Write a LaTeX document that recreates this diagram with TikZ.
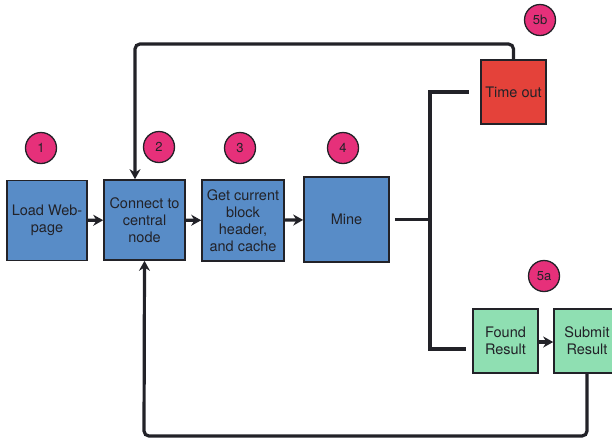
\documentclass[tikz,border=0pt]{standalone}
\usepackage{fontspec}
\setmainfont{TeX Gyre Heros}
\usetikzlibrary{arrows.meta}
\definecolor{stepblue}{RGB}{88,140,199}
\definecolor{stepred}{RGB}{228,66,58}
\definecolor{stepgreen}{RGB}{143,223,178}
\definecolor{badgepink}{RGB}{230,48,122}
\definecolor{inkdark}{RGB}{34,34,40}
\tikzset{
  stepbox/.style={draw=inkdark,line width=1.6pt,text=inkdark,align=center,
    inner sep=1pt,font=\fontsize{14.5}{17}\selectfont},
  badge/.style={circle,draw=inkdark,line width=1.3pt,fill=badgepink,
    minimum size=31pt,inner sep=0pt,text=inkdark,font=\fontsize{13}{15}\selectfont},
  flow/.style={draw=inkdark,line width=3.2pt},
  flowarrow/.style={flow,-{Stealth[length=10pt,width=11pt]}}
}

\begin{document}
\begin{tikzpicture}[x=1pt,y=-1pt]
\useasboundingbox (0,0) rectangle (612,440);
\clip (0,0) rectangle (612,440);
\node[stepbox,fill=stepblue,minimum width=80pt,minimum height=80pt] (load) at (47,220.5) {Load Web-\\page};
\node[stepbox,fill=stepblue,minimum width=81pt,minimum height=80pt] (connect) at (144.5,220) {Connect to\\central\\node};
\node[stepbox,fill=stepblue,minimum width=82pt,minimum height=81pt] (header) at (243,220.5) {Get current\\block\\header,\\and cache};
\node[stepbox,fill=stepblue,minimum width=85pt,minimum height=85pt] (mine) at (346.5,219.5) {Mine};
\node[stepbox,fill=stepred,minimum width=65pt,minimum height=64pt] (timeout) at (513.5,92) {Time out};
\node[stepbox,fill=stepgreen,minimum width=65pt,minimum height=64pt] (found) at (505.5,341) {Found\\Result};
\node[stepbox,fill=stepgreen,minimum width=66pt,minimum height=64pt] (submit) at (587,341) {Submit\\Result};
\node[badge] (b1) at (41,148) {1};
\node[badge] (b2) at (159,147) {2};
\node[badge] (b3) at (240,148) {3};
\node[badge] (b4) at (343,148) {4};
\node[badge] (b5b) at (540,20) {5b};
\node[badge] (b5a) at (544,276) {5a};
\coordinate (junction) at (430,219.5);
\coordinate (topbend) at (135,44);
\coordinate (bottombend) at (144,436);
\draw[flowarrow] (load) -- (connect);
\draw[flowarrow] (connect) -- (header);
\draw[flowarrow] (header) -- (mine);
\draw[flowarrow] (found.east |- 0,342) -- (submit.west |- 0,342);
\draw[flow] ([xshift=5pt]mine.east) -- (junction);
\draw[flow,shorten >=11pt] (junction) |- (timeout.west);
\draw[flow,shorten >=6pt] (junction) |- ([yshift=-8pt]found.west);
\draw[flowarrow,rounded corners=5pt] (timeout.north) |- (topbend) -- ([xshift=-9.5pt]connect.north);
\draw[flowarrow,rounded corners=5pt] (submit.south) |- (bottombend) -- (connect.south);
\end{tikzpicture}
\end{document}
